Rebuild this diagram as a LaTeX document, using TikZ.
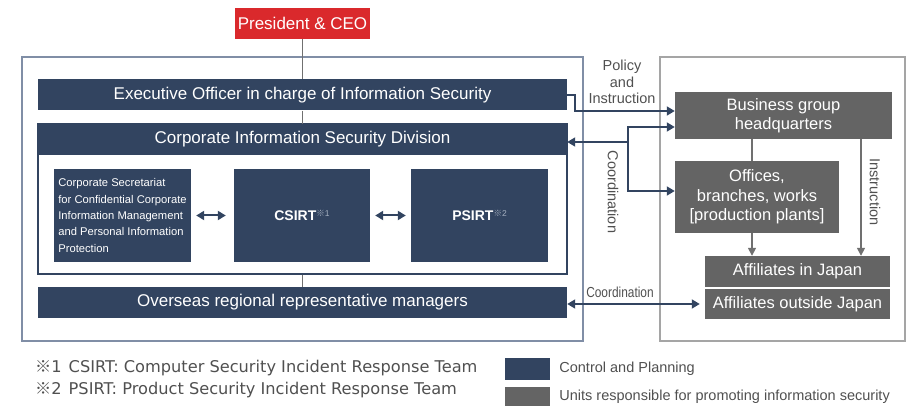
\documentclass[tikz,border=0pt]{standalone}
\usepackage{fontspec}
\setmainfont{Liberation Sans}
\newfontfamily\notefont{DejaVu Sans}
\newfontfamily\narrowfont{Liberation Sans}[FakeStretch=0.82]
\newfontfamily\cjk{Noto Sans CJK JP}
\usetikzlibrary{arrows.meta, positioning}
\definecolor{navy}{RGB}{50,68,96}
\definecolor{unitgray}{RGB}{100,100,100}
\definecolor{ceored}{RGB}{218,41,44}
\definecolor{framegray}{RGB}{128,142,166}
\definecolor{boxgray}{RGB}{165,165,165}
\definecolor{linegray}{RGB}{112,112,112}
\definecolor{labelgray}{RGB}{80,80,80}
\definecolor{marklight}{RGB}{165,176,192}

\tikzset{
  ctrlbar/.style={fill=navy, text=white, minimum width=529pt, minimum height=31pt, inner sep=0pt, font=\fontsize{17}{20}\selectfont},
  ctrlbox/.style={fill=navy, text=white, inner sep=0pt},
  unitbox/.style={fill=unitgray, text=white, inner sep=0pt, align=center, font=\fontsize{16.5}{19.5}\selectfont},
  outerframe/.style={draw=#1, line width=1.2pt, inner sep=0pt},
  flow/.style={draw=navy, line width=1.8pt, -{Triangle[length=8pt,width=9pt]}},
  twoway/.style={draw=navy, line width=2pt, {Triangle[length=8pt,width=9pt]}-{Triangle[length=8pt,width=9pt]}},
  link/.style={draw=linegray, line width=1.5pt},
  push/.style={link, -{Triangle[length=8pt,width=8pt]}},
  note/.style={text=labelgray, inner sep=0pt, align=center, font=\fontsize{14.5}{16.5}\selectfont},
  keytext/.style={text=labelgray, inner sep=0pt, anchor=west, font=\fontsize{14.5}{17}\selectfont},
  footnote/.style={text=labelgray, inner sep=0pt, anchor=west, font=\notefont\fontsize{16.2}{19}\selectfont},
}
\newcommand{\refmark}[1]{\raisebox{4.5pt}{\textcolor{marklight}{\fontsize{8.5}{9}\selectfont\cjk ※\normalfont #1}}}

\begin{document}
\begin{tikzpicture}[x=1pt, y=-1pt]
        \useasboundingbox (0,0) rectangle (908,406);
        % frames
        \node[outerframe=framegray, minimum width=561pt, minimum height=284pt] (leftframe) at (302.5,199) {};
        \node[outerframe=boxgray, minimum width=245pt, minimum height=284pt] (rightframe) at (782.5,199) {};
        \node[outerframe=navy, minimum width=529pt, minimum height=150pt] (inner) at (302.5,199) {};

        % control and planning
        \node[fill=ceored, text=white, minimum width=135pt, minimum height=31pt, inner sep=0pt, font=\fontsize{17}{20}\selectfont] (ceo) at (302.5,23.5) {President \& CEO};
        \node[ctrlbar] (exec) at (302.5,95) {Executive Officer in charge of Information Security};
        \node[ctrlbar] (corp) at (302.5,139.5) {Corporate Information Security Division};
        \node[ctrlbox, minimum width=137pt, minimum height=93pt, align=left, font=\fontsize{11.2}{16.3}\selectfont] (secr) at (122.5,215.5) {Corporate Secretariat\\for Confidential Corporate\\Information Management\\and Personal Information\\Protection};
        \node[ctrlbox, minimum width=136pt, minimum height=93pt, font=\bfseries\fontsize{14}{16}\selectfont] (csirt) at (302,215.5) {CSIRT\refmark{1}};
        \node[ctrlbox, minimum width=137pt, minimum height=93pt, font=\bfseries\fontsize{14}{16}\selectfont] (psirt) at (479.5,215.5) {PSIRT\refmark{2}};
        \node[ctrlbar] (overseas) at (302.5,302.5) {Overseas regional representative managers};

        % promoting units
        \node[unitbox, minimum width=217pt, minimum height=47pt] (hq) at (783.5,115.5) {Business group\\headquarters};
        \node[unitbox, minimum width=164pt, minimum height=72pt] (offices) at (757,197) {Offices,\\branches, works\\{[production plants]}};
        \node[unitbox, minimum width=185pt, minimum height=31pt] (affjp) at (797.5,271.5) {Affiliates in Japan};
        \node[unitbox, minimum width=185pt, minimum height=30pt] (affout) at (797.5,304) {Affiliates outside Japan};

        % lines inside the left frame
        \draw[link] (ceo) -- (exec);
        \draw[link] (exec) -- (corp);
        \draw[link] (inner) -- (overseas);
        \draw[twoway, shorten <=5pt, shorten >=8pt] (secr) -- (csirt);
        \draw[twoway, shorten <=5pt, shorten >=5pt] (csirt) -- (psirt);

        % between the frames
        \draw[flow] (exec.east) -- ++(8,0) |- ([yshift=4.5pt]hq.west);
        \node[note] (policy) at (622,82) {Policy\\and\\Instruction};
        \coordinate (coordjoin) at (628,142);
        \draw[flow] (coordjoin) -- (corp.east |- coordjoin);
        \draw[flow] (coordjoin) |- ([yshift=-11.5pt]hq.west);
        \draw[flow] (coordjoin) |- ([yshift=6pt]offices.west);
        \node[note, rotate=-90] (coordtop) at (613,192) {Coordination};
        \draw[twoway, line width=1.8pt] (overseas.east |- affout.west) -- ([xshift=-5pt]affout.west);
        \node[note, font=\narrowfont\fontsize{14.5}{16.5}\selectfont] (coordlow) at (620,292) {Coordination};

        % lines inside the right frame
        \draw[link] ([xshift=-5pt]offices.north) -- ([xshift=-5pt]offices.north |- hq.south);
        \draw[push] ([xshift=-5pt]offices.south) -- ([xshift=-5pt]offices.south |- affjp.north);
        \draw[push] ([xshift=77.5pt]hq.south) -- ([xshift=77.5pt]hq.south |- affjp.north);
        \node[note, rotate=-90] (instr) at (875,192) {Instruction};

        % notes and legend
        \node[footnote] (fn1) at (35,368) {{\cjk ※}1\hspace{7pt}CSIRT: Computer Security Incident Response Team};
        \node[footnote] (fn2) at (35,390) {{\cjk ※}2\hspace{7pt}PSIRT: Product Security Incident Response Team};
        \node[ctrlbox, minimum width=45pt, minimum height=22pt] (keyctrl) at (527.5,369) {};
        \node[unitbox, minimum width=45pt, minimum height=20pt] (keyunit) at (527.5,397) {};
        \node[keytext, right=9pt of keyctrl] (keyctrltext) {Control and Planning};
        \node[keytext, right=9pt of keyunit] (keyunittext) {Units responsible for promoting information security};
    \end{tikzpicture}
\end{document}
